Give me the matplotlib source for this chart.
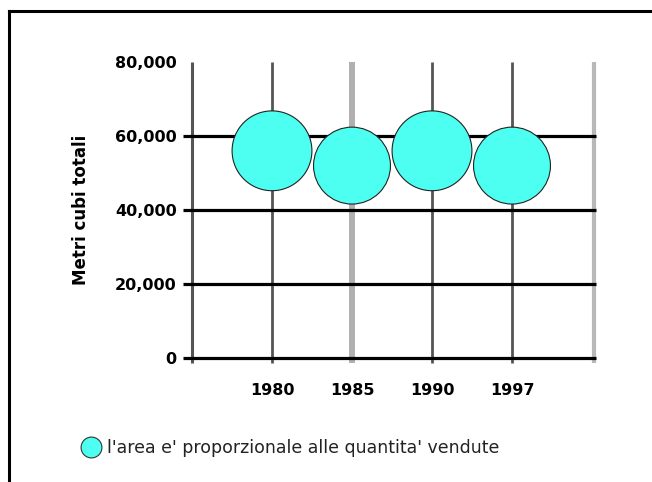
import matplotlib
matplotlib.use("Agg")
import matplotlib.pyplot as plt

years = ["1980", "1985", "1990", "1997"]
volumes = [56000, 52000, 56000, 52000]
yticks = [0, 20000, 40000, 60000, 80000]
ytick_labels = ["0", "20,000", "40,000", "60,000", "80,000"]
ylabel = "Metri cubi totali"
legend_text = "l'area e' proporzionale alle quantita' vendute"

plt.rcParams['font.family'] = ['DejaVu Sans']

W, H = 652, 482
fig = plt.figure(figsize=(W/100, H/100), dpi=100)
ax = fig.add_axes([192/W, 1-358/H, 400/W, 296/H])
ax.set_xlim(0, 5)
ax.set_ylim(0, 80000)
for s in ax.spines.values():
    s.set_visible(False)

xpos = list(range(1, len(years)+1))

# vertical lines
vcolors = ['#555555', '#b0b0b0', '#555555', '#555555']
vwidths = [2.0, 4.3, 2.0, 2.0]
ax.vlines([0], -1400, 80000, colors='#555555', lw=2.2, clip_on=False, zorder=2)
for x, c, w in zip(xpos, vcolors, vwidths):
    ax.vlines([x], -1400, 80000, colors=c, lw=w, clip_on=False, zorder=1)
ax.vlines([5.02], -1400, 80000, colors='#b8b8b8', lw=3.0, clip_on=False, zorder=1)

# horizontal gridlines
for y in yticks[:-1]:
    ax.hlines([y], -0.11, 5.05, colors='black', lw=2.3, clip_on=False, zorder=2)

ax.set_xticks(xpos)
ax.set_xticklabels(years, fontsize=11.5, fontweight='bold')
ax.set_yticks(yticks)
ax.set_yticklabels(ytick_labels, fontsize=11.5, fontweight='bold')
ax.tick_params(axis='both', length=0)
ax.tick_params(axis='y', pad=11)
ax.tick_params(axis='x', pad=18)
ax.set_ylabel(ylabel, fontsize=12, fontweight='bold', labelpad=18)

sizes = [v * 0.059 for v in volumes]
ax.scatter(xpos, volumes, s=sizes, c='#4dfff0', edgecolors='#222222', linewidths=0.8, zorder=5, clip_on=False)

# outer frame (top and left)
fig.add_artist(plt.Line2D([9/W, 1], [1-11/H, 1-11/H], color='black', lw=2.2, transform=fig.transFigure))
fig.add_artist(plt.Line2D([9/W, 9/W], [0, 1-11/H], color='black', lw=2.2, transform=fig.transFigure))

# legend
fig.add_artist(plt.Line2D([91/W], [1-447/H], marker='o', markersize=15, markerfacecolor='#4dfff0',
                          markeredgecolor='#333333', markeredgewidth=0.8, linestyle='none', transform=fig.transFigure))
fig.text(107/W, 1-448/H, legend_text, fontsize=12.5, va='center', ha='left', color='#222222')

fig.savefig("out.png", dpi=100)
